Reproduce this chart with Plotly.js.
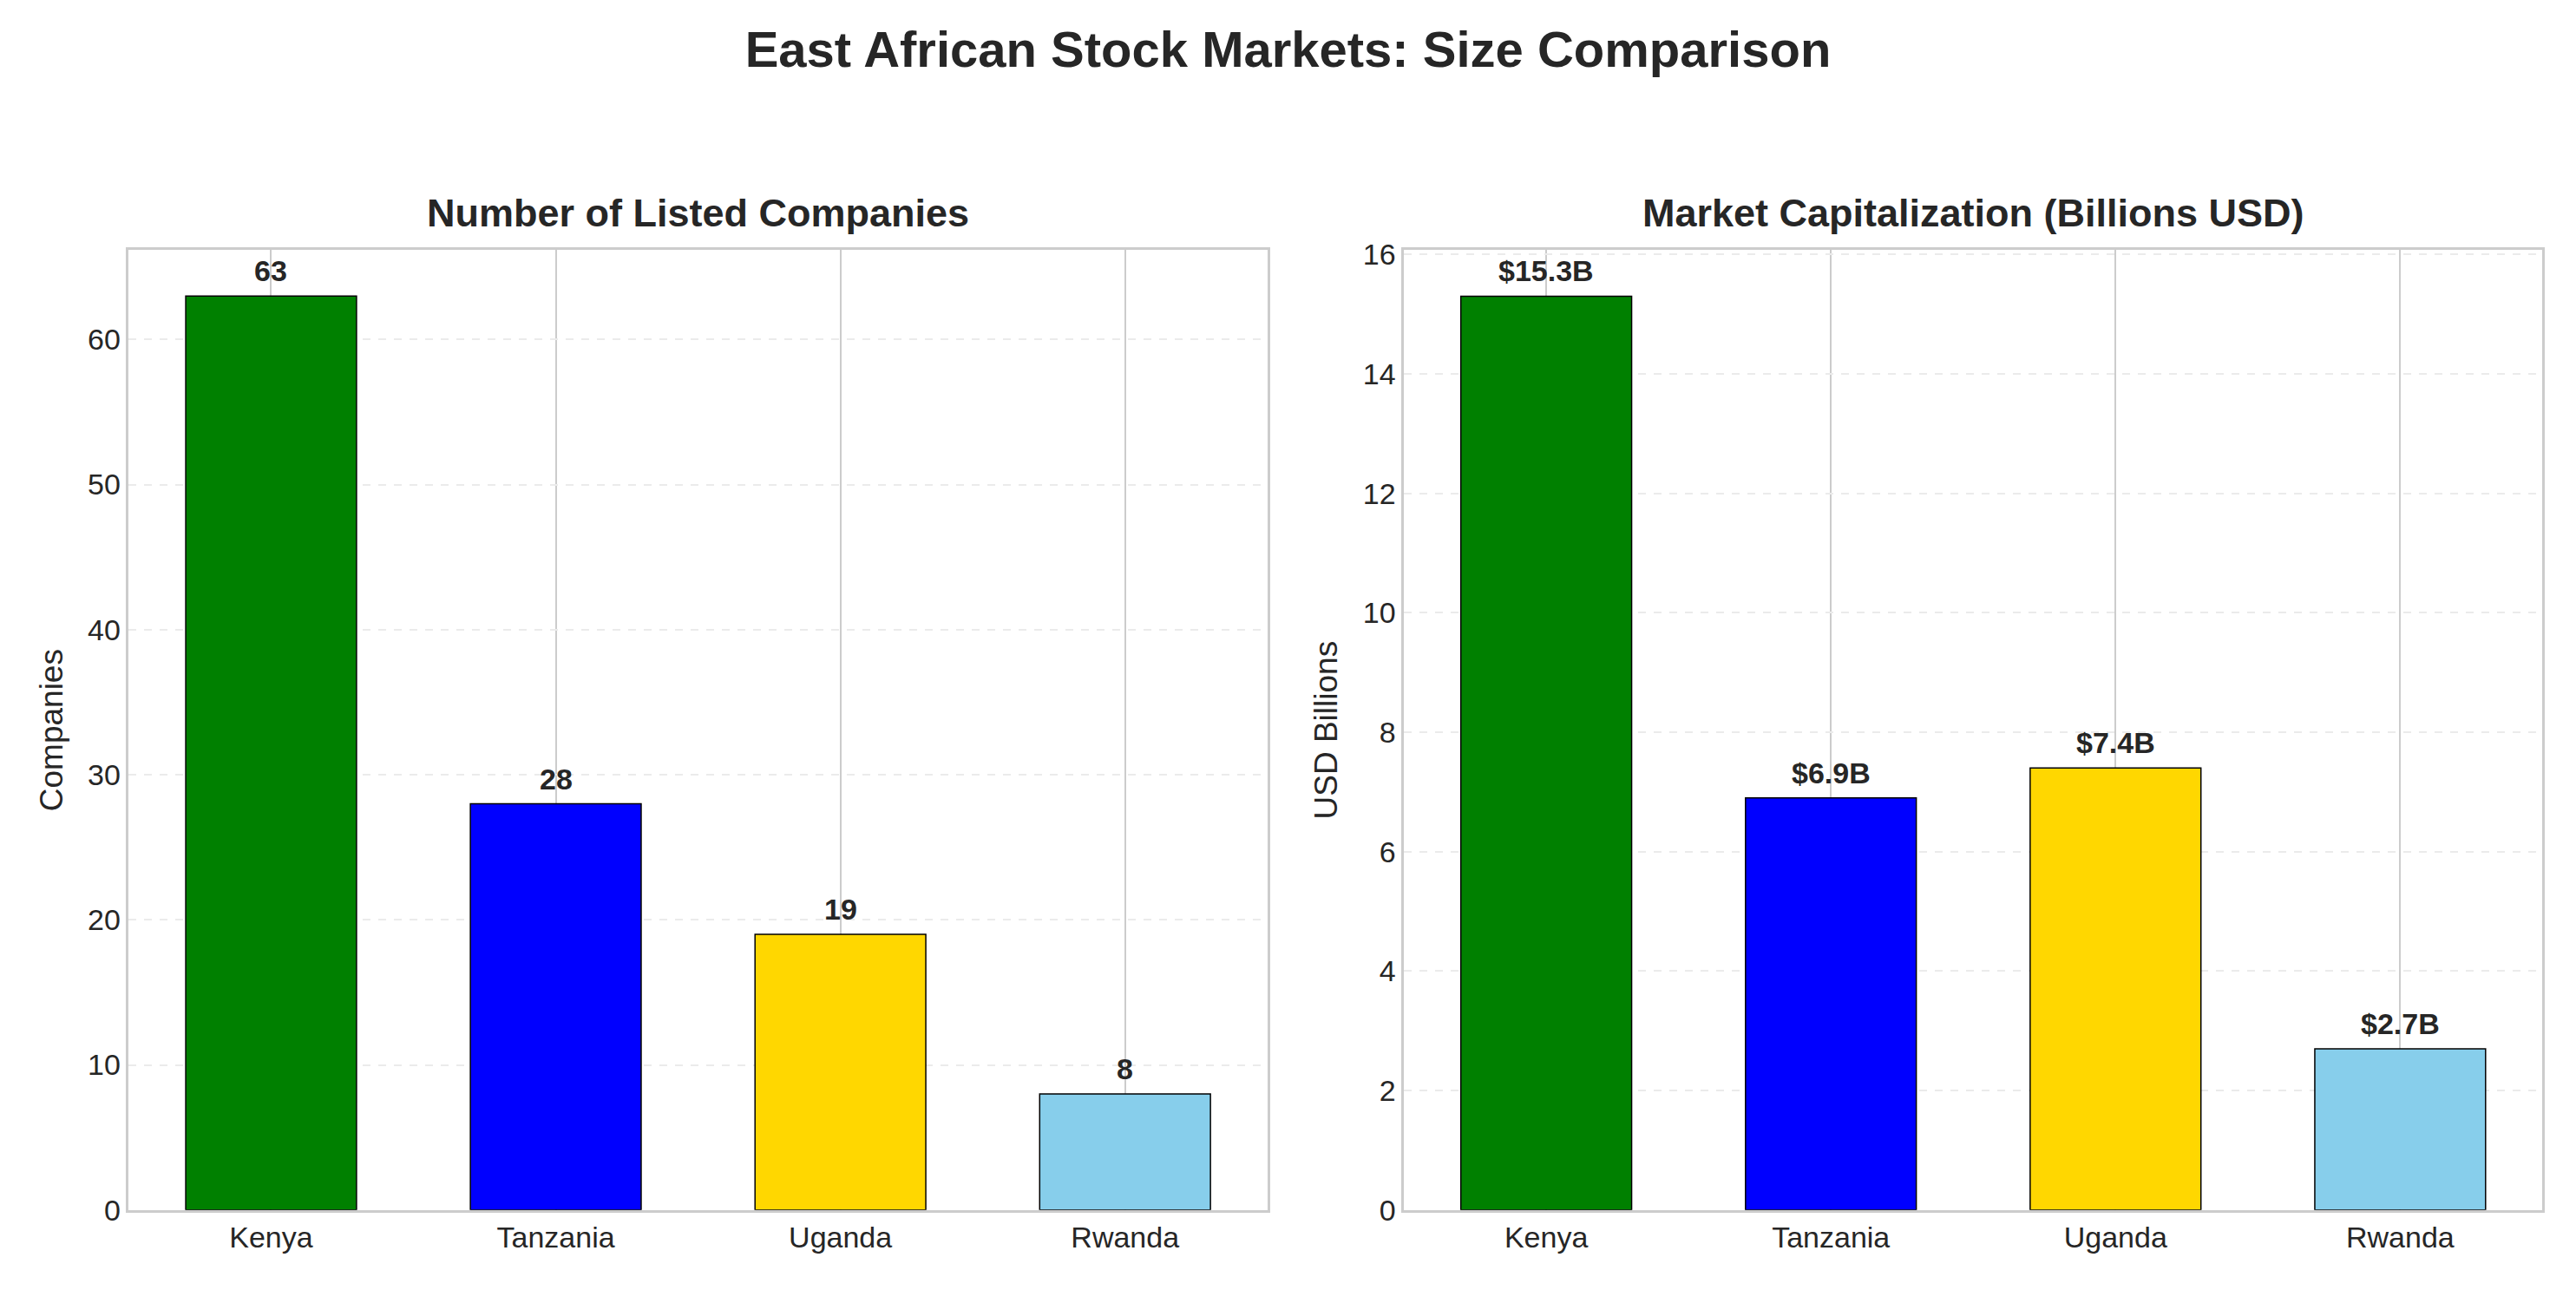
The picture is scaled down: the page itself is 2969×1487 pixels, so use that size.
<!DOCTYPE html>
<html>
<head>
<script src="https://cdn.plot.ly/plotly-3.0.1.min.js"></script>
<style>body{margin:0;background:#fff}#chart{width:2969px;height:1487px}</style>
</head>
<body>
<div id="chart"></div>
<script>
const countries = ["Kenya", "Tanzania", "Uganda", "Rwanda"];
const listedCompanies = [63, 28, 19, 8];
const marketCap = [15.3, 6.9, 7.4, 2.7];
const barColors = ["#008000", "#0000ff", "#ffd700", "#87ceeb"];

const font = "Liberation Sans, Arial, sans-serif";
const ink = "#262626";

function bars(y, xa, ya) {
  return {
    type: "bar", x: countries, y: y, xaxis: xa, yaxis: ya, width: 0.6,
    marker: { color: barColors, line: { color: "black", width: 1.5 } },
    hoverinfo: "skip"
  };
}

function labels(y, xa, ya, fmt) {
  return countries.map((c, i) => ({
    x: c, y: y[i], xref: xa, yref: ya, text: "<b>" + fmt(y[i]) + "</b>",
    showarrow: false, yanchor: "bottom", yshift: 8,
    font: { family: font, size: 34, color: ink }
  }));
}

function xaxis(domain, anchor) {
  return {
    domain: domain, anchor: anchor, showgrid: true, gridcolor: "#cccccc", gridwidth: 2,
    showline: true, mirror: true, linecolor: "#cccccc", linewidth: 2.5,
    ticks: "", tickfont: { family: font, size: 34, color: ink }, zeroline: false
  };
}
function yaxis(range, dtick, title, anchor) {
  return {
    domain: [0.062, 0.806], anchor: anchor, range: range, dtick: dtick,
    showgrid: true, gridcolor: "#ebebeb", gridwidth: 1.5, griddash: "dash",
    showline: true, mirror: true, linecolor: "#cccccc", linewidth: 2.5, zeroline: false,
    ticks: "", tickfont: { family: font, size: 34, color: ink },
    title: { text: title, font: { family: font, size: 37, color: ink }, standoff: 18 }
  };
}

const data = [
  bars(listedCompanies, "x", "y"),
  bars(marketCap, "x2", "y2")
];

const layout = {
  width: 2969, height: 1487, showlegend: false, bargap: 0.4,
  paper_bgcolor: "white", plot_bgcolor: "white",
  margin: { l: 0, r: 0, t: 0, b: 0 },
  title: { text: "<b>East African Stock Markets: Size Comparison</b>",
    font: { family: font, size: 58, color: ink }, x: 0.5, xref: "paper", xanchor: "center",
    y: 0.962, yanchor: "middle" },
  xaxis: xaxis([0.050, 0.492], "y"),
  yaxis: yaxis([0, 66.15], 10, "Companies", "x"),
  xaxis2: xaxis([0.545, 0.987], "y2"),
  yaxis2: yaxis([0, 16.07], 2, "USD Billions", "x2"),
  annotations: [
    { text: "<b>Number of Listed Companies</b>", xref: "paper", yref: "paper", x: 0.271, y: 0.835,
      xanchor: "center", showarrow: false, yanchor: "middle", font: { family: font, size: 45, color: ink } },
    { text: "<b>Market Capitalization (Billions USD)</b>", xref: "paper", yref: "paper", x: 0.766, y: 0.835,
      xanchor: "center", showarrow: false, yanchor: "middle", font: { family: font, size: 45, color: ink } }
  ].concat(
    labels(listedCompanies, "x", "y", v => String(v)),
    labels(marketCap, "x2", "y2", v => "$" + v.toFixed(1) + "B")
  )
};

Plotly.newPlot("chart", data, layout, { displayModeBar: false });
</script>
</body>
</html>
